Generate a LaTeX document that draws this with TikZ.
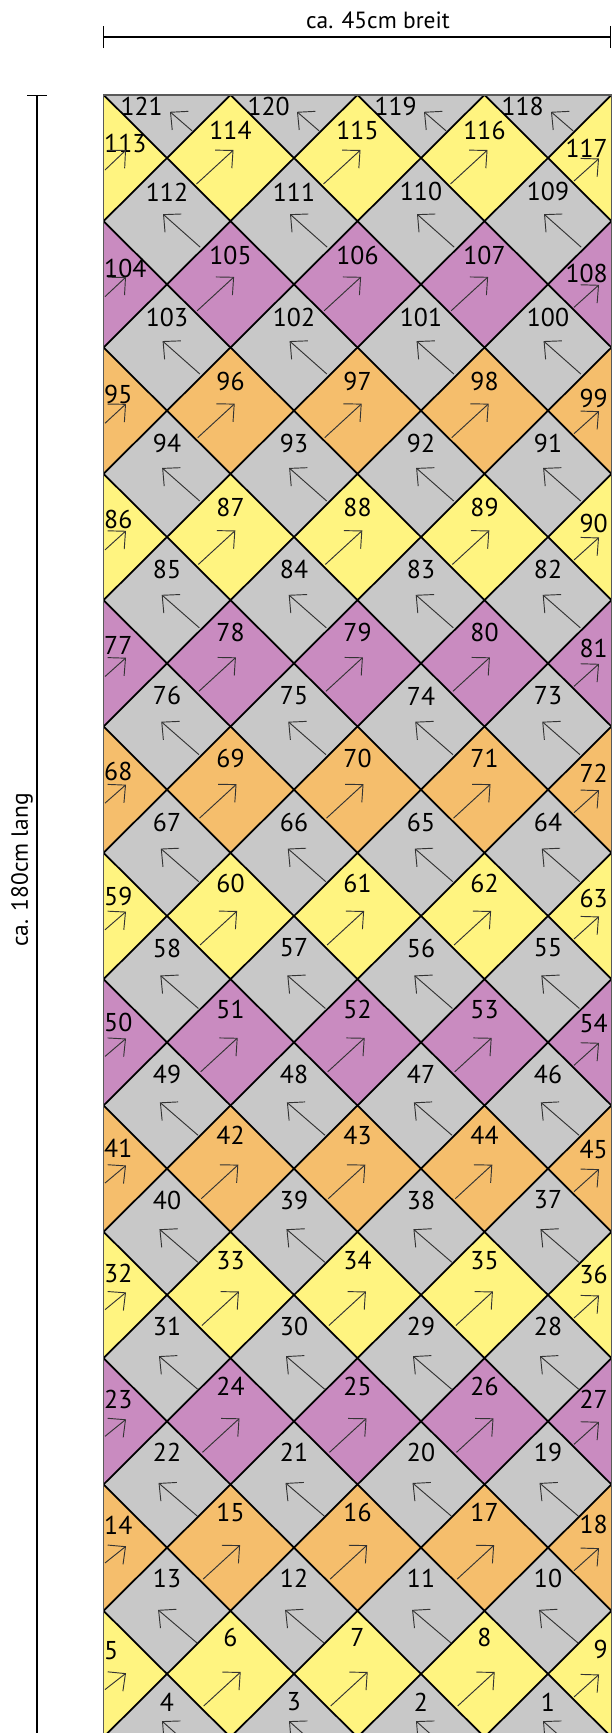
\documentclass[tikz,border=0pt]{standalone}
\usepackage{fontspec}
\setmainfont{PT Sans}
\usetikzlibrary{arrows.meta}
\definecolor{tile0}{RGB}{255,244,128}
\definecolor{tile1}{RGB}{245,190,108}
\definecolor{tile2}{RGB}{201,139,192}
\definecolor{tilegrey}{RGB}{200,200,200}
\tikzset{
  tile/.style={draw=black, line width=1.5pt, line join=miter},
  turn/.style={draw=black!80, line width=0.8pt,
    -{Straight Barb[length=11pt,width=21pt]}},
  num/.style={font=\fontsize{22}{25}\selectfont, inner sep=0pt},
  measure/.style={line width=1.2pt}
}

\begin{document}
\begin{tikzpicture}[x=0.03cm, y=-0.03cm]
  \useasboundingbox (0,0) rectangle (612,1733);
  % strip: x from 103.5 to 611.5, top at 94.8, runs off the bottom
  \begin{scope}
    \clip (103.5,94.8) rectangle (611.5,1733);
    \fill[tilegrey] (103.5,94.8) rectangle (611.5,1733);
    % coloured squares, row m=0 is the top one
    \foreach \m in {0,...,12} {
      \pgfmathsetmacro\cy{158+126.33*\m}
      \pgfmathtruncatemacro\hue{mod(12-\m,3)}
      \foreach \j in {0,...,4} {
        \pgfmathsetmacro\cx{103.5+127*\j}
        \filldraw[tile, fill=tile\hue]
          (\cx-63.5,\cy) -- (\cx,\cy-63.17) -- (\cx+63.5,\cy) -- (\cx,\cy+63.17) -- cycle;
      }
    }
    % numbers and arrows, coloured rows (left to right)
    \foreach \m in {0,...,12} {
      \pgfmathsetmacro\cy{158+126.33*\m}
      \pgfmathtruncatemacro\first{5+9*(12-\m)}
      \foreach \j in {0,...,4} {
        \pgfmathsetmacro\cx{103.5+127*\j}
        \pgfmathtruncatemacro\nr{\first+\j}
        \ifnum\j=0
          \node[num, anchor=west] (n\nr) at (104,\cy-15-0.7*\m) {\nr};
          \draw[turn] (105,\cy+12+0.3*\m) -- (126,\cy-8+0.6*\m);
        \else\ifnum\j=4
          \node[num, anchor=east] (n\nr) at (608,\cy-10-1.2*\m) {\nr};
          \draw[turn] (\cx-37.5,\cy+23) -- (\cx-12.5,\cy+0.5);
        \else
          \node[num] (n\nr) at (\cx,\cy-28-0.67*\m) {\nr};
          \draw[turn] (\cx-34+0.6*\m,\cy+26+0.5*\m) -- (\cx+3+0.6*\m,\cy-8+0.5*\m);
        \fi\fi
      }
    }
    % numbers and arrows, grey rows (right to left)
    \foreach \g in {0,...,13} {
      \pgfmathsetmacro\cy{94.8+126.33*\g}
      \pgfmathtruncatemacro\first{1+9*(13-\g)}
      \foreach \j in {0,...,3} {
        \pgfmathsetmacro\cx{167+127*\j}
        \pgfmathtruncatemacro\nr{\first+3-\j}
        \ifnum\g=0
          \node[num, anchor=east] (n\nr) at (\cx-4,\cy+12) {\nr};
          \draw[turn] (\cx+25,\cy+36) -- (\cx+3,\cy+17);
        \else\ifnum\g=13
          \node[num] (n\nr) at (\cx,\cy-35) {\nr};
          \draw[turn] (\cx+32,\cy+17) -- (\cx-5,\cy-16);
        \else
          \node[num] (n\nr) at (\cx,\cy-29-0.3*\g) {\nr};
          \draw[turn] (\cx+33.5-0.3*\g,\cy+25.5+0.55*\g) -- (\cx-3.5-0.45*\g,\cy-7.5+0.55*\g);
        \fi\fi
      }
    }
  \end{scope}
  % outline of the strip
  \draw[line width=1.4pt, black!65] (103.5,1733) -- (103.5,94.8) -- (611.5,94.8) -- (611.5,1733);

  % width
  \coordinate (wl) at (103,37);
  \coordinate (wr) at (611,37);
  \draw[measure, {Bar[width=19pt]}-{Bar[width=19pt]}] (wl) -- (wr);
  \node[font=\fontsize{20}{24}\selectfont] (breit) at (378,20) {ca. 45cm breit};
  % length
  \coordinate (lt) at (37,95);
  \coordinate (lb) at (37,1740);
  \draw[measure, {Bar[width=17pt]}-] (lt) -- (lb);
  \node[rotate=90, font=\fontsize{20}{24}\selectfont] (lang) at (22,870) {ca. 180cm lang};
\end{tikzpicture}
\end{document}
